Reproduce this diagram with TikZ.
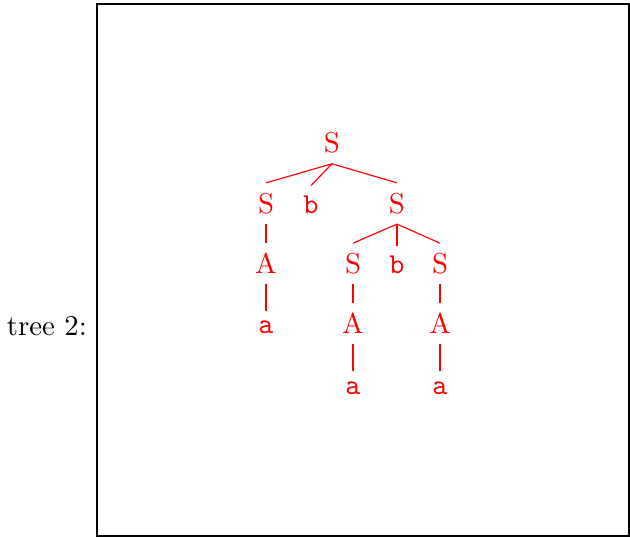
\documentclass[tikz,border=0pt]{standalone}
\begin{document}
\begin{tikzpicture}[x=1cm,y=1cm,
  tnode/.style={text=red, anchor=base},
  tedge/.style={draw=red, line width=0.4pt}]
\useasboundingbox (0,0) rectangle (7.697,-6.561);
% frame and caption
\draw (1.185,-0.049) rectangle (7.685,-6.549);
\node[anchor=base east] (cap) at (1.185,-4.093) {tree 2:};
% level baselines
\def\la{-1.869}\def\lb{-2.606}\def\lc{-3.343}\def\ld{-4.080}\def\le{-4.817}
% nodes
\node[tnode] (r)   at (4.056,\la) {S};
\node[tnode] (s1)  at (3.250,\lb) {S};
\node[tnode] (b1)  at (3.800,\lb) {\texttt{b}};
\node[tnode] (s2)  at (4.850,\lb) {S};
\node[tnode] (a1)  at (3.250,\lc) {A};
\node[tnode] (s3)  at (4.313,\lc) {S};
\node[tnode] (b2)  at (4.850,\lc) {\texttt{b}};
\node[tnode] (s4)  at (5.376,\lc) {S};
\node[tnode] (t1)  at (3.250,\ld) {\texttt{a}};
\node[tnode] (a2)  at (4.313,\ld) {A};
\node[tnode] (a3)  at (5.376,\ld) {A};
\node[tnode] (t2)  at (4.313,\le) {\texttt{a}};
\node[tnode] (t3)  at (5.376,\le) {\texttt{a}};
% edges
\foreach \p/\c in {r/s1, r/b1, r/s2, s1/a1, s2/s3, s2/b2, s2/s4,
                   a1/t1, s3/a2, s4/a3, a2/t2, a3/t3}
  \draw[tedge] (\p.south) -- (\c.north);
\end{tikzpicture}
\end{document}
